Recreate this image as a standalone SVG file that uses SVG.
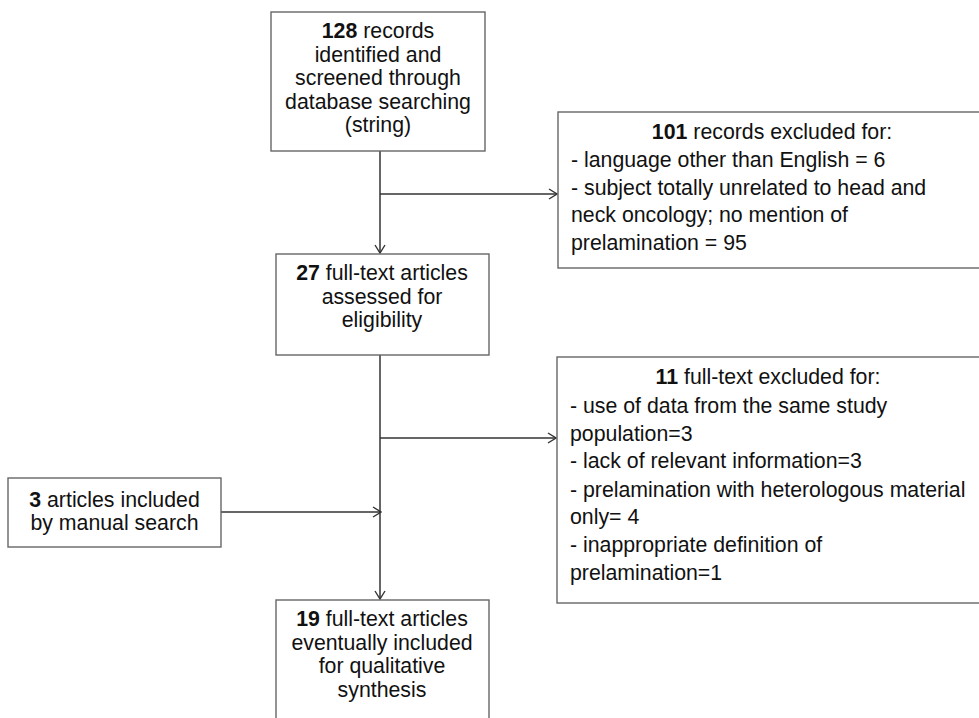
<svg xmlns="http://www.w3.org/2000/svg" width="979" height="718" viewBox="0 0 979 718">
<defs>
<style>
.box{fill:#fff;stroke:#666;stroke-width:1.4}
.t{font-family:"Liberation Sans",Arial,sans-serif;font-size:21.3px;fill:#111}
.c{text-anchor:middle}
.b{font-weight:bold}
.ln{fill:none;stroke:#333;stroke-width:1.5}
</style>
<marker id="ah" viewBox="0 0 10 12" refX="9" refY="6" markerWidth="10" markerHeight="12" markerUnits="userSpaceOnUse" orient="auto">
<path d="M1,1 L9,6 L1,11" fill="none" stroke="#333" stroke-width="1.4"/>
</marker>
</defs>
<rect width="979" height="718" fill="#fff"/>
<g id="connectors">
<line class="ln" x1="380" y1="151" x2="380" y2="253" marker-end="url(#ah)"/>
<line class="ln" x1="380" y1="194" x2="557" y2="194" marker-end="url(#ah)"/>
<line class="ln" x1="380" y1="355" x2="380" y2="599" marker-end="url(#ah)"/>
<line class="ln" x1="380" y1="438" x2="556" y2="438" marker-end="url(#ah)"/>
<line class="ln" x1="221" y1="512" x2="381" y2="512" marker-end="url(#ah)"/>
</g>
<g id="n1">
<rect class="box" x="271" y="12" width="214" height="139"/>
<text class="t c" x="378" y="38"><tspan class="b">128</tspan> records</text>
<text class="t c" x="378" y="61.5">identified and</text>
<text class="t c" x="378" y="85">screened through</text>
<text class="t c" x="378" y="108.5">database searching</text>
<text class="t c" x="378" y="132">(string)</text>
</g>
<g id="n2">
<rect class="box" x="558" y="112" width="430" height="156"/>
<text class="t c" x="772" y="139"><tspan class="b">101</tspan> records excluded for:</text>
<text class="t" x="571" y="167">- language other than English = 6</text>
<text class="t" x="571" y="195">- subject totally unrelated to head and</text>
<text class="t" x="571" y="222">neck oncology; no mention of</text>
<text class="t" x="571" y="250">prelamination = 95</text>
</g>
<g id="n3">
<rect class="box" x="276" y="254" width="213" height="101"/>
<text class="t c" x="382" y="280"><tspan class="b">27</tspan> full-text articles</text>
<text class="t c" x="382" y="303.5">assessed for</text>
<text class="t c" x="382" y="327">eligibility</text>
</g>
<g id="n4">
<rect class="box" x="557" y="357" width="430" height="246"/>
<text class="t c" x="768" y="384"><tspan class="b">11</tspan> full-text excluded for:</text>
<text class="t" x="570" y="413">- use of data from the same study</text>
<text class="t" x="570" y="440.5">population=3</text>
<text class="t" x="570" y="468">- lack of relevant information=3</text>
<text class="t" x="570" y="496.5">- prelamination with heterologous material</text>
<text class="t" x="570" y="524">only= 4</text>
<text class="t" x="570" y="552">- inappropriate definition of</text>
<text class="t" x="570" y="580">prelamination=1</text>
</g>
<g id="n5">
<rect class="box" x="8" y="478" width="213" height="69"/>
<text class="t c" x="114.5" y="506.5"><tspan class="b">3</tspan> articles included</text>
<text class="t c" x="114.5" y="530">by manual search</text>
</g>
<g id="n6">
<rect class="box" x="276" y="600" width="213" height="130"/>
<text class="t c" x="382" y="626"><tspan class="b">19</tspan> full-text articles</text>
<text class="t c" x="382" y="649.5">eventually included</text>
<text class="t c" x="382" y="673">for qualitative</text>
<text class="t c" x="382" y="696.5">synthesis</text>
</g>
</svg>
